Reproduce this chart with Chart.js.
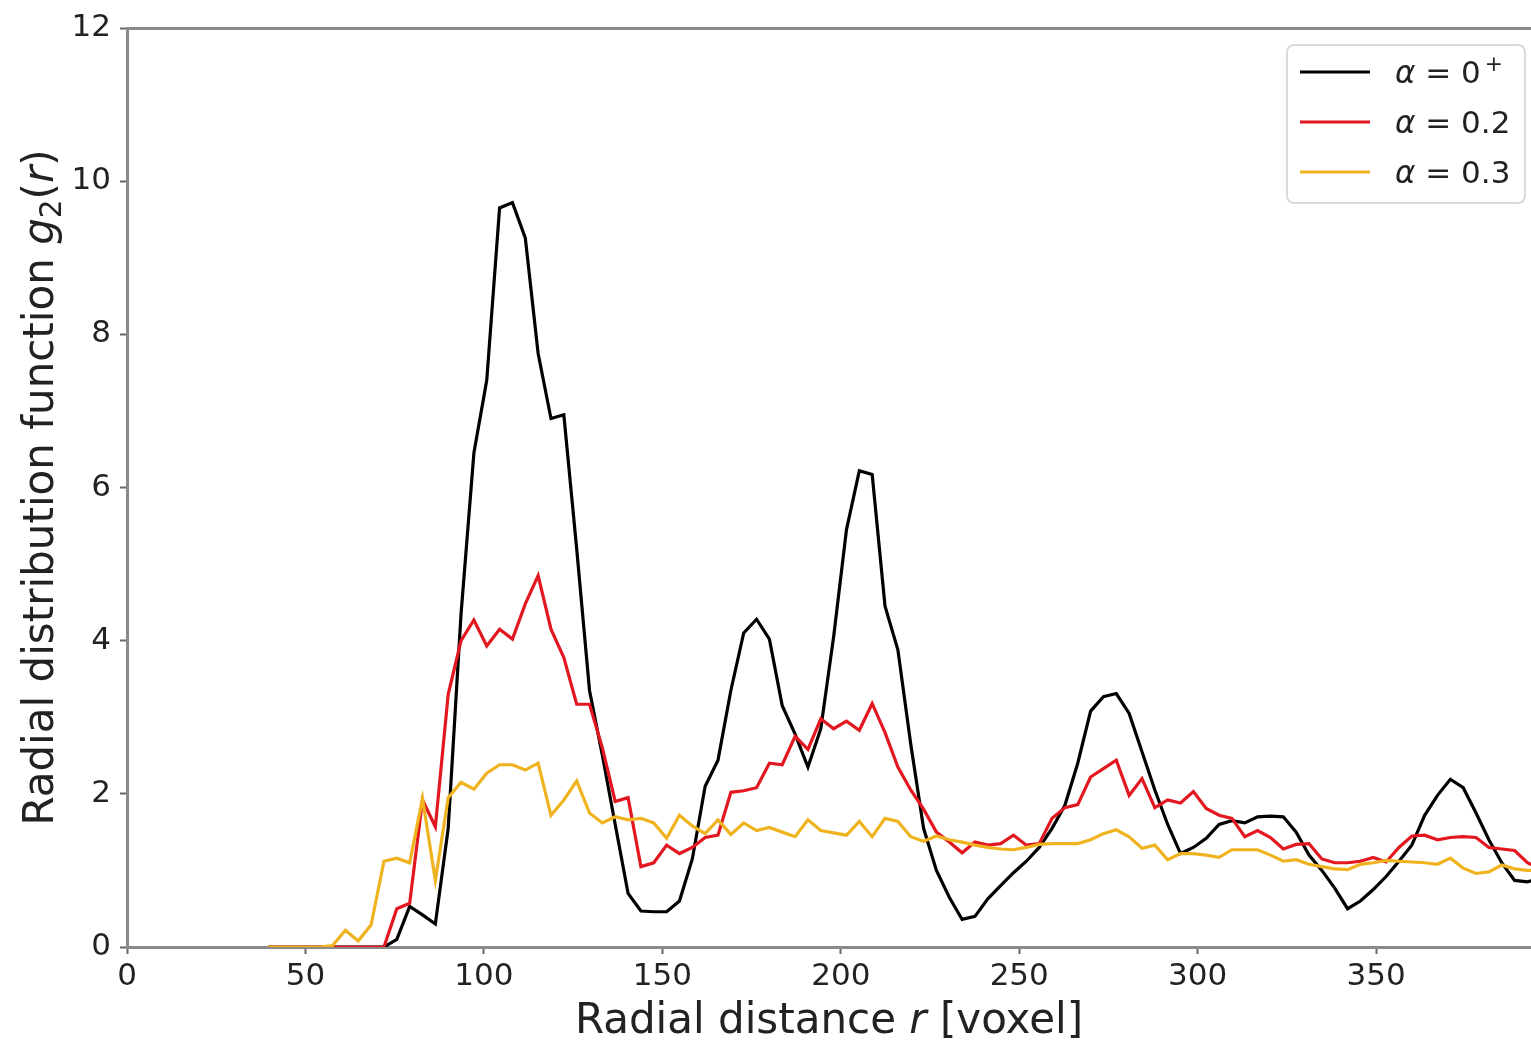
<!DOCTYPE html>
<html>
<head>
<meta charset="utf-8">
<script src="https://cdn.jsdelivr.net/npm/chart.js@4.4.1/dist/chart.umd.min.js"></script>
<style>
  html, body { margin: 0; padding: 0; background: #fff; overflow: hidden; }
  #wrap { width: 1531px; height: 1047px; }
</style>
</head>
<body>
<div id="wrap"><canvas id="myChart" width="1531" height="1047"></canvas></div>
<script>
// radial distance r [voxel]
const rDist = [
  39.6, 43.2, 46.8, 50.4, 54, 57.6, 61.2, 64.8, 68.4, 72,
  75.6, 79.2, 82.8, 86.4, 90, 93.6, 97.2, 100.8, 104.4, 108,
  111.6, 115.2, 118.8, 122.4, 126, 129.6, 133.2, 136.8, 140.4, 144,
  147.6, 151.2, 154.8, 158.4, 162, 165.6, 169.2, 172.8, 176.4, 180,
  183.6, 187.2, 190.8, 194.4, 198, 201.6, 205.2, 208.8, 212.4, 216,
  219.6, 223.2, 226.8, 230.4, 234, 237.6, 241.2, 244.8, 248.4, 252,
  255.6, 259.2, 262.8, 266.4, 270, 273.6, 277.2, 280.8, 284.4, 288,
  291.6, 295.2, 298.8, 302.4, 306, 309.6, 313.2, 316.8, 320.4, 324,
  327.6, 331.2, 334.8, 338.4, 342, 345.6, 349.2, 352.8, 356.4, 360,
  363.6, 367.2, 370.8, 374.4, 378, 381.6, 385.2, 388.8, 392.4, 396
];

// g2(r) for alpha = 0+
const g2Zero = [
  0, 0, 0, 0, 0, 0, 0, 0, 0, 0,
  0.1, 0.53, 0.42, 0.3, 1.55, 4.35, 6.45, 7.4, 9.65, 9.72,
  9.26, 7.75, 6.9, 6.95, 5.2, 3.35, 2.5, 1.6, 0.7, 0.47,
  0.46, 0.46, 0.6, 1.15, 2.1, 2.44, 3.35, 4.1, 4.28, 4.02,
  3.15, 2.78, 2.35, 2.85, 4.05, 5.45, 6.22, 6.17, 4.45, 3.88,
  2.65, 1.55, 1.0, 0.65, 0.36, 0.4, 0.63, 0.8, 0.97, 1.12,
  1.3, 1.55, 1.85, 2.4, 3.08, 3.27, 3.31, 3.05, 2.55, 2.05,
  1.6, 1.22, 1.3, 1.42, 1.6, 1.65, 1.62, 1.7, 1.71, 1.7,
  1.5, 1.2, 1.0, 0.77, 0.5, 0.6, 0.75, 0.92, 1.12, 1.33,
  1.72, 1.98, 2.19, 2.08, 1.75, 1.4, 1.1, 0.87, 0.85, 0.9
];

// g2(r) for alpha = 0.2
const g2Alpha02 = [
  0, 0, 0, 0, 0, 0, 0, 0, 0, 0,
  0.5, 0.57, 1.92, 1.57, 3.3, 4.0, 4.27, 3.93, 4.15, 4.02,
  4.48, 4.85, 4.15, 3.78, 3.17, 3.17, 2.6, 1.9, 1.95, 1.05,
  1.1, 1.33, 1.22, 1.3, 1.43, 1.46, 2.02, 2.04, 2.08, 2.4,
  2.38, 2.75, 2.58, 2.98, 2.85, 2.95, 2.83, 3.18, 2.8, 2.35,
  2.05, 1.8, 1.5, 1.37, 1.23, 1.37, 1.33, 1.35, 1.46, 1.33,
  1.35, 1.68, 1.82, 1.86, 2.22, 2.33, 2.44, 1.98, 2.2, 1.82,
  1.92, 1.88, 2.03, 1.81, 1.72, 1.68, 1.44, 1.52, 1.43, 1.28,
  1.34, 1.35, 1.15, 1.1, 1.1, 1.12, 1.17, 1.11, 1.3, 1.45,
  1.46, 1.4, 1.43, 1.44, 1.43, 1.3, 1.28, 1.26, 1.1, 1.02
];

// g2(r) for alpha = 0.3
const g2Alpha03 = [
  0, 0, 0, 0, 0, 0.02, 0.22, 0.08, 0.29, 1.12,
  1.16, 1.1, 1.94, 0.87, 1.95, 2.15, 2.06, 2.27, 2.38, 2.38,
  2.31, 2.4, 1.72, 1.92, 2.17, 1.75, 1.62, 1.7, 1.66, 1.68,
  1.62, 1.42, 1.72, 1.58, 1.48, 1.66, 1.47, 1.62, 1.52, 1.56,
  1.5, 1.44, 1.66, 1.52, 1.49, 1.46, 1.64, 1.44, 1.68, 1.64,
  1.44, 1.38, 1.45, 1.4, 1.37, 1.33, 1.3, 1.28, 1.27, 1.3,
  1.34, 1.35, 1.35, 1.35, 1.4, 1.48, 1.53, 1.44, 1.29, 1.33,
  1.14, 1.22, 1.22, 1.2, 1.17, 1.27, 1.27, 1.27, 1.2, 1.12,
  1.14, 1.08, 1.05, 1.02, 1.01, 1.08, 1.1, 1.13, 1.12, 1.11,
  1.1, 1.08, 1.16, 1.03, 0.96, 0.98, 1.07, 1.02, 1.0, 1.0
];

const alphaValues = ["0", "0.2", "0.3"];
const alphaSup = ["+", "", ""];
const seriesColors = ["#000000", "#e3171f", "#efb320"];
const xRange = [0, 393.4];
const yRange = [0, 12];
const xStep = 50;
const yStep = 2;

const FONT = "'DejaVu Sans', sans-serif";
const TEXT = "#222222";

function toPoints(ys) {
  return rDist.map((r, i) => ({ x: r, y: ys[i] }));
}

// draw a run of text parts (italic / sub / sup) horizontally
function partFont(p, size) {
  const s = p.sub || p.sup ? size * 0.7 : size;
  return (p.it ? "italic " : "") + s + "px " + FONT;
}
function partsWidth(ctx, parts, size) {
  let w = 0;
  parts.forEach(p => { ctx.font = partFont(p, size); w += ctx.measureText(p.t).width + (p.gap || 0); });
  return w;
}
function drawParts(ctx, parts, x, y, size) {
  let cx = x;
  parts.forEach(p => {
    ctx.font = partFont(p, size);
    let dy = 0;
    if (p.sub) dy = size * 0.2;
    if (p.sup) dy = -size * 0.38;
    cx += p.gap || 0;
    ctx.fillText(p.t, cx, y + dy);
    cx += ctx.measureText(p.t).width;
  });
}

const titlesAndLegend = {
  id: "titlesAndLegend",
  afterDraw(chart) {
    const ctx = chart.ctx;
    const area = chart.chartArea;
    ctx.save();
    ctx.fillStyle = TEXT;
    ctx.textBaseline = "alphabetic";
    ctx.textAlign = "left";

    // x axis title
    const xt = [{ t: "Radial distance " }, { t: "r", it: true }, { t: " [voxel]" }];
    const xs = 42;
    const xw = partsWidth(ctx, xt, xs);
    drawParts(ctx, xt, (area.left + area.right) / 2 - xw / 2, 1033, xs);

    // y axis title
    const yt = [{ t: "Radial distribution function " }, { t: "g", it: true }, { t: "2", sub: true }, { t: "(" }, { t: "r", it: true }, { t: ")" }];
    const ys = 42;
    const yw = partsWidth(ctx, yt, ys);
    ctx.save();
    ctx.translate(53, (area.top + area.bottom) / 2);
    ctx.rotate(-Math.PI / 2);
    drawParts(ctx, yt, -yw / 2, 0, ys);
    ctx.restore();

    // legend
    const bx = 1287, by = 45, bw = 238, bh = 158, rad = 7;
    ctx.beginPath();
    ctx.moveTo(bx + rad, by);
    ctx.arcTo(bx + bw, by, bx + bw, by + bh, rad);
    ctx.arcTo(bx + bw, by + bh, bx, by + bh, rad);
    ctx.arcTo(bx, by + bh, bx, by, rad);
    ctx.arcTo(bx, by, bx + bw, by, rad);
    ctx.closePath();
    ctx.fillStyle = "rgba(255,255,255,0.85)";
    ctx.fill();
    ctx.strokeStyle = "#dadada";
    ctx.lineWidth = 2;
    ctx.stroke();

    chart.data.datasets.forEach((ds, i) => {
      const rowY = 72 + i * 50;
      ctx.strokeStyle = ds.borderColor;
      ctx.lineWidth = 3.2;
      ctx.beginPath();
      ctx.moveTo(1300, rowY);
      ctx.lineTo(1370, rowY);
      ctx.stroke();
      const parts = [{ t: "α", it: true }, { t: " = " }, { t: alphaValues[i] }];
      if (alphaSup[i]) parts.push({ t: alphaSup[i], sup: true, gap: 4 });
      ctx.fillStyle = TEXT;
      drawParts(ctx, parts, 1395, rowY + 11, 31);
    });
    ctx.restore();
  }
};

const ctx = document.getElementById("myChart").getContext("2d");
new Chart(ctx, {
  type: "line",
  data: {
    datasets: [
      { label: "alpha = 0+", data: toPoints(g2Zero), borderColor: seriesColors[0], order: 3 },
      { label: "alpha = 0.2", data: toPoints(g2Alpha02), borderColor: seriesColors[1], order: 2 },
      { label: "alpha = 0.3", data: toPoints(g2Alpha03), borderColor: seriesColors[2], order: 1 }
    ]
  },
  options: {
    responsive: false,
    animation: false,
    devicePixelRatio: 1,
    elements: {
      line: { borderWidth: 3.2, tension: 0, fill: false },
      point: { radius: 0 }
    },
    layout: { padding: { left: 0, right: 0, top: 28, bottom: 0 } },
    plugins: {
      legend: { display: false },
      tooltip: { enabled: false }
    },
    scales: {
      x: {
        type: "linear",
        position: "bottom",
        min: xRange[0],
        max: xRange[1],
        ticks: {
          stepSize: xStep,
          includeBounds: false,
          maxRotation: 0,
          autoSkip: false,
          padding: 4,
          color: TEXT,
          font: { family: FONT, size: 31 }
        },
        grid: { drawOnChartArea: false, drawTicks: true, tickLength: 7, tickColor: "#666", tickWidth: 2 },
        border: { display: true, color: "#8a8a8a", width: 3 },
        afterFit(scale) { scale.height = 100; }
      },
      xTop: {
        type: "linear",
        position: "top",
        min: xRange[0],
        max: xRange[1],
        ticks: { display: false },
        grid: { display: false },
        border: { display: true, color: "#8a8a8a", width: 3 },
        afterFit(scale) { scale.height = 0; }
      },
      y: {
        min: yRange[0],
        max: yRange[1],
        ticks: {
          stepSize: yStep,
          padding: 9,
          color: TEXT,
          font: { family: FONT, size: 31 }
        },
        grid: { drawOnChartArea: false, drawTicks: true, tickLength: 7, tickColor: "#666", tickWidth: 2 },
        border: { display: true, color: "#8a8a8a", width: 3 },
        afterFit(scale) { scale.width = 127; }
      }
    }
  },
  plugins: [titlesAndLegend]
});
</script>
</body>
</html>
